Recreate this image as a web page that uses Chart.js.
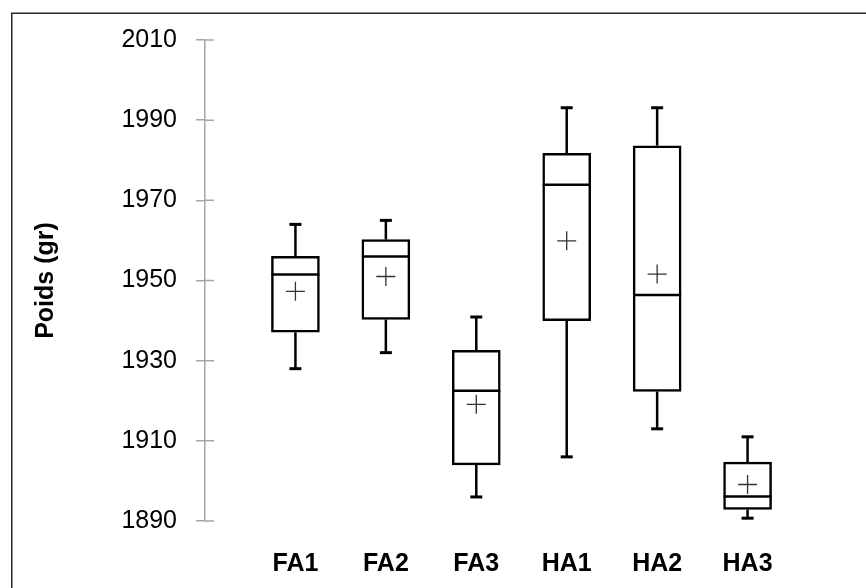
<!DOCTYPE html>
<html>
<head>
<meta charset="utf-8">
<script src="https://cdn.jsdelivr.net/npm/chart.js@4/dist/chart.umd.min.js"></script>
<style>
html,body{margin:0;padding:0;background:#fff;}
#wrap{position:relative;width:866px;height:588px;}
</style>
</head>
<body>
<div id="wrap"><canvas id="c" width="866" height="588"></canvas></div>
<script>
// ---- data ----
const categories = ['FA1', 'FA2', 'FA3', 'HA1', 'HA2', 'HA3'];
const minValues    = [1928.0, 1932.0, 1896.0, 1906.0, 1913.0, 1890.7];
const q1Values     = [1937.1, 1940.3, 1904.0, 1940.0, 1922.3, 1892.9];
const medianValues = [1951.5, 1956.0, 1922.5, 1973.9, 1946.4, 1896.1];
const q3Values     = [1956.0, 1960.2, 1932.6, 1981.7, 1983.6, 1904.7];
const maxValues    = [1964.0, 1965.0, 1940.9, 1993.1, 1993.1, 1911.0];
const meanValues   = [1947.3, 1951.0, 1919.1, 1959.9, 1951.6, 1899.1];
const yTicks = [1890, 1910, 1930, 1950, 1970, 1990, 2010];
const yTitle = 'Poids (gr)';

// ---- build datasets ----
const xs = categories.map((c, i) => i + 1);
const boxData = xs.map((x, i) => ({ x: x, y: [q1Values[i], q3Values[i]] }));
const medianData = xs.map((x, i) => ({ x: x, y: medianValues[i] }));
const meanData = xs.map((x, i) => ({ x: x, y: meanValues[i] }));
const capData = [];
const whiskerData = [];
xs.forEach((x, i) => {
  capData.push({ x: x, y: maxValues[i] });
  capData.push({ x: x, y: minValues[i] });
  whiskerData.push({ x: x, y: maxValues[i] });
  whiskerData.push({ x: x, y: q3Values[i] });
  whiskerData.push({ x: x, y: null });
  whiskerData.push({ x: x, y: q1Values[i] });
  whiskerData.push({ x: x, y: minValues[i] });
  whiskerData.push({ x: x, y: null });
});

const AXIS_GRAY = '#a6a6a6';

const framePlugin = {
  id: 'frame',
  beforeDraw(chart) {
    const ctx = chart.ctx;
    ctx.save();
    ctx.fillStyle = '#fff';
    ctx.fillRect(0, 0, chart.width, chart.height);
    ctx.strokeStyle = '#262626';
    ctx.lineWidth = 1.5;
    ctx.beginPath();
    ctx.moveTo(11.75, chart.height + 2);
    ctx.lineTo(11.75, 13.25);
    ctx.lineTo(chart.width + 2, 13.25);
    ctx.stroke();
    ctx.restore();
  },
  afterDraw(chart) {
    // inner half of the "cross" tick marks on the value axis
    const s = chart.scales.y;
    const ctx = chart.ctx;
    ctx.save();
    ctx.strokeStyle = AXIS_GRAY;
    ctx.lineWidth = 1.5;
    ctx.beginPath();
    s.ticks.forEach(t => {
      const y = s.getPixelForValue(t.value);
      ctx.moveTo(s.right, y);
      ctx.lineTo(s.right + 9, y);
    });
    ctx.stroke();
    ctx.restore();
  }
};

new Chart(document.getElementById('c'), {
  type: 'scatter',
  data: {
    datasets: [
      {
        type: 'bar', label: 'box', data: boxData, order: 5,
        backgroundColor: '#ffffff', borderColor: '#000000', borderWidth: 2.5,
        borderSkipped: false, barThickness: 48
      },
      {
        type: 'scatter', label: 'whiskers', data: whiskerData, order: 4,
        showLine: true, spanGaps: false, borderColor: '#000000', borderWidth: 2.5,
        pointRadius: 0, pointHoverRadius: 0
      },
      {
        type: 'scatter', label: 'median', data: medianData, order: 3,
        pointStyle: 'line', pointRadius: 24, pointHoverRadius: 24,
        pointBorderColor: '#000000', pointBorderWidth: 2.5, pointHoverBorderWidth: 2.5
      },
      {
        type: 'scatter', label: 'caps', data: capData, order: 2,
        pointStyle: 'line', pointRadius: 6, pointHoverRadius: 6,
        pointBorderColor: '#000000', pointBorderWidth: 3, pointHoverBorderWidth: 3
      },
      {
        type: 'scatter', label: 'mean', data: meanData, order: 1,
        pointStyle: 'cross', pointRadius: 9.5, pointHoverRadius: 9.5,
        pointBorderColor: '#333333', pointBorderWidth: 1.3, pointHoverBorderWidth: 1.3
      }
    ]
  },
  options: {
    responsive: false,
    animation: false,
    events: [],
    layout: { padding: { left: 0, right: 21, top: 40, bottom: 0 } },
    plugins: { legend: { display: false }, tooltip: { enabled: false } },
    scales: {
      x: {
        type: 'linear', min: 0, max: xs.length + 1, offset: false,
        grid: { display: false, drawTicks: false },
        border: { display: false },
        ticks: {
          stepSize: 1, autoSkip: false, maxRotation: 0, padding: 28,
          color: '#000',
          font: { family: '"Liberation Sans", Arial, sans-serif', size: 25, weight: 'bold' },
          callback: v => categories[v - 1] || ''
        },
        afterFit: s => { s.height = 67; }
      },
      y: {
        type: 'linear', min: yTicks[0], max: yTicks[yTicks.length - 1], beginAtZero: false,
        grid: { drawOnChartArea: false, drawTicks: true, tickLength: 9, color: AXIS_GRAY, lineWidth: 1.5 },
        border: { display: true, color: AXIS_GRAY, width: 1.5 },
        afterBuildTicks: s => { s.ticks = yTicks.map(v => ({ value: v })); },
        ticks: {
          padding: 19, color: '#000',
          font: { family: '"Liberation Sans", Arial, sans-serif', size: 25 },
          callback: v => String(v)
        },
        title: {
          display: true, text: yTitle, color: '#000',
          padding: { top: 31, bottom: 0 },
          font: { family: '"Liberation Sans", Arial, sans-serif', size: 25, weight: 'bold' }
        },
        afterFit: s => { s.width = 205; }
      }
    }
  },
  plugins: [framePlugin]
});
</script>
</body>
</html>
